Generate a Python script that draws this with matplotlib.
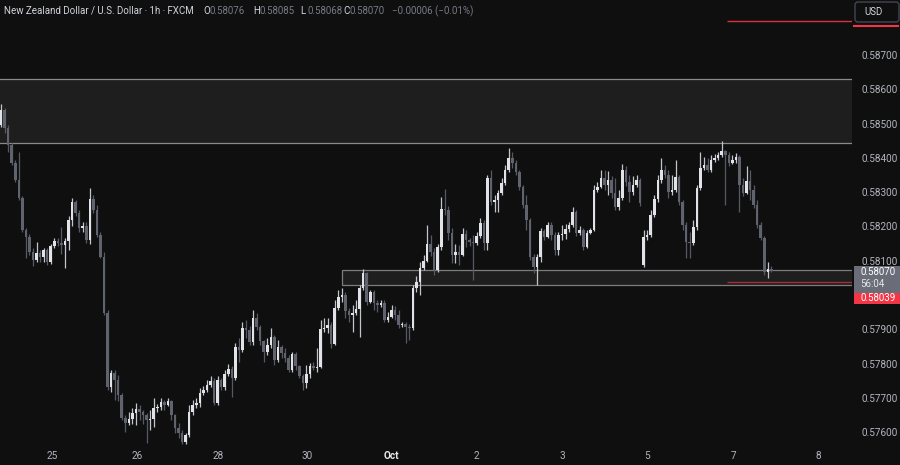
import numpy as np
import matplotlib.pyplot as plt
import matplotlib.transforms as mtransforms
from matplotlib.patches import Rectangle, FancyBboxPatch
from matplotlib.lines import Line2D

plt.rcParams['font.family'] = ['Roboto', 'DejaVu Sans']

# =============================================================================
# Data: NZD/USD 1h candles, prices in points (1e-5)
# =============================================================================
opens = [58496, 58540, 58487, 58437, 58385, 58336, 58283, 58190, 58169, 58126,
         58102, 58123, 58111, 58132, 58096, 58143, 58158, 58152, 58146, 58158,
         58219, 58271, 58239, 58196, 58202, 58161, 58280, 58248, 58175, 58111,
         57948, 57732, 57773, 57753, 57709, 57642, 57627, 57639, 57656, 57668,
         57659, 57650, 57636, 57639, 57671, 57674, 57688, 57680, 57691, 57650,
         57612, 57598, 57572, 57592, 57659, 57680, 57686, 57715, 57723, 57738,
         57750, 57686, 57753, 57732, 57770, 57785, 57758, 57849, 57840, 57904,
         57898, 57863, 57933, 57907, 57866, 57834, 57854, 57878, 57811, 57849,
         57831, 57817, 57782, 57828, 57793, 57764, 57744, 57770, 57793, 57787,
         57790, 57901, 57904, 57913, 57857, 57962, 57994, 58000, 57953, 57942,
         57948, 57960, 58021, 58064, 57980, 58009, 57977, 57971, 57977, 57928,
         57936, 57956, 57942, 57913, 57916, 57907, 57904, 58021, 58038, 58079,
         58099, 58149, 58126, 58073, 58140, 58251, 58248, 58181, 58117, 58126,
         58117, 58178, 58161, 58155, 58152, 58172, 58210, 58152, 58341, 58271,
         58277, 58297, 58327, 58365, 58400, 58385, 58359, 58315, 58263, 58219,
         58111, 58082, 58111, 58187, 58169, 58204, 58175, 58132, 58175, 58178,
         58192, 58204, 58242, 58181, 58190, 58140, 58181, 58190, 58306, 58315,
         58341, 58321, 58336, 58297, 58257, 58283, 58365, 58330, 58301, 58321,
         58336, 58088, 58169, 58175, 58233, 58280, 58336, 58365, 58350, 58301,
         58306, 58344, 58271, 58204, 58155, 58152, 58198, 58312, 58370, 58379,
         58365, 58394, 58400, 58408, 58420, 58408, 58385, 58394, 58402, 58321,
         58297, 58332, 58306, 58263, 58204, 58166, 58067, 58076]
highs = [58557, 58546, 58496, 58443, 58394, 58417, 58289, 58196, 58178, 58137,
         58155, 58132, 58137, 58137, 58149, 58166, 58166, 58198, 58166, 58231,
         58283, 58277, 58248, 58213, 58213, 58312, 58292, 58262, 58184, 58126,
         57957, 57782, 57782, 57767, 57715, 57650, 57659, 57671, 57685, 57680,
         57665, 57656, 57665, 57700, 57683, 57700, 57694, 57700, 57694, 57653,
         57627, 57607, 57598, 57680, 57694, 57700, 57729, 57735, 57753, 57764,
         57759, 57764, 57759, 57782, 57799, 57793, 57860, 57875, 57921, 57927,
         57910, 57956, 57948, 57913, 57869, 57875, 57904, 57884, 57869, 57854,
         57846, 57825, 57834, 57834, 57796, 57770, 57796, 57802, 57805, 57846,
         57927, 57933, 57933, 57921, 57986, 58015, 58021, 58009, 57962, 57971,
         57986, 58030, 58076, 58067, 58015, 58015, 57986, 57986, 57986, 57951,
         57971, 57968, 57957, 57921, 57921, 57916, 58030, 58056, 58096, 58117,
         58204, 58175, 58137, 58149, 58286, 58309, 58260, 58196, 58149, 58146,
         58196, 58190, 58166, 58175, 58184, 58225, 58219, 58350, 58365, 58292,
         58306, 58341, 58379, 58429, 58417, 58394, 58365, 58321, 58292, 58225,
         58120, 58120, 58196, 58192, 58213, 58213, 58184, 58184, 58204, 58207,
         58213, 58257, 58248, 58201, 58196, 58190, 58196, 58321, 58330, 58365,
         58365, 58362, 58347, 58341, 58306, 58382, 58376, 58350, 58347, 58350,
         58341, 58190, 58190, 58248, 58292, 58350, 58400, 58379, 58365, 58350,
         58394, 58350, 58277, 58213, 58184, 58219, 58321, 58417, 58402, 58400,
         58408, 58411, 58417, 58449, 58423, 58417, 58408, 58414, 58408, 58341,
         58376, 58365, 58321, 58277, 58213, 58172, 58096, 58085]
lows = [58490, 58472, 58417, 58379, 58330, 58277, 58184, 58108, 58117, 58085,
        58096, 58096, 58096, 58088, 58091, 58137, 58143, 58120, 58079, 58132,
        58202, 58231, 58184, 58184, 58152, 58149, 58239, 58169, 58108, 57942,
        57723, 57717, 57694, 57691, 57636, 57601, 57621, 57624, 57621, 57636,
        57624, 57569, 57607, 57615, 57659, 57665, 57665, 57677, 57636, 57598,
        57583, 57566, 57566, 57586, 57650, 57671, 57674, 57709, 57717, 57732,
        57680, 57680, 57723, 57723, 57764, 57703, 57753, 57805, 57834, 57875,
        57854, 57854, 57898, 57854, 57805, 57825, 57846, 57796, 57805, 57817,
        57805, 57776, 57776, 57782, 57758, 57723, 57729, 57758, 57782, 57776,
        57787, 57892, 57889, 57846, 57854, 57956, 57980, 57933, 57921, 57892,
        57942, 57878, 58015, 57971, 57977, 57956, 57951, 57965, 57921, 57921,
        57933, 57928, 57904, 57907, 57860, 57869, 57898, 58009, 58000, 58073,
        58096, 58114, 58059, 58067, 58132, 58233, 58161, 58093, 58093, 58088,
        58114, 58140, 58143, 58044, 58146, 58166, 58132, 58132, 58263, 58242,
        58242, 58292, 58321, 58359, 58371, 58350, 58306, 58254, 58190, 58102,
        58064, 58029, 58096, 58161, 58166, 58161, 58117, 58117, 58161, 58163,
        58184, 58198, 58172, 58175, 58132, 58137, 58178, 58187, 58300, 58312,
        58306, 58292, 58283, 58248, 58248, 58277, 58318, 58271, 58292, 58315,
        58260, 58082, 58161, 58169, 58227, 58271, 58327, 58341, 58283, 58292,
        58300, 58263, 58190, 58108, 58108, 58146, 58190, 58306, 58365, 58359,
        58359, 58388, 58394, 58402, 58263, 58376, 58382, 58385, 58242, 58289,
        58295, 58277, 58254, 58196, 58161, 58059, 58050, 58068]
closes = [58540, 58487, 58437, 58385, 58336, 58283, 58190, 58169, 58126, 58102,
          58123, 58111, 58132, 58096, 58143, 58158, 58152, 58146, 58158, 58219,
          58271, 58239, 58196, 58202, 58161, 58280, 58248, 58175, 58111, 57948,
          57732, 57773, 57753, 57709, 57642, 57627, 57639, 57656, 57668, 57659,
          57650, 57636, 57639, 57671, 57674, 57688, 57680, 57691, 57650, 57612,
          57598, 57572, 57592, 57659, 57680, 57686, 57715, 57723, 57738, 57750,
          57686, 57753, 57732, 57770, 57785, 57758, 57849, 57840, 57904, 57898,
          57863, 57933, 57907, 57866, 57834, 57854, 57878, 57811, 57849, 57831,
          57817, 57782, 57828, 57793, 57764, 57744, 57770, 57793, 57787, 57790,
          57901, 57904, 57913, 57857, 57962, 57994, 58000, 57953, 57942, 57948,
          57960, 58021, 58064, 57980, 58009, 57977, 57971, 57977, 57928, 57936,
          57956, 57942, 57913, 57916, 57907, 57904, 58021, 58038, 58079, 58099,
          58149, 58126, 58073, 58140, 58251, 58248, 58181, 58117, 58126, 58117,
          58178, 58161, 58155, 58152, 58172, 58210, 58152, 58341, 58271, 58277,
          58297, 58327, 58365, 58400, 58385, 58359, 58315, 58263, 58219, 58111,
          58082, 58111, 58187, 58169, 58204, 58175, 58132, 58175, 58178, 58192,
          58204, 58242, 58181, 58190, 58140, 58181, 58190, 58306, 58315, 58341,
          58321, 58336, 58297, 58257, 58283, 58365, 58330, 58301, 58321, 58336,
          58268, 58169, 58175, 58233, 58280, 58336, 58365, 58350, 58301, 58306,
          58344, 58271, 58204, 58155, 58152, 58198, 58312, 58370, 58379, 58365,
          58394, 58400, 58408, 58420, 58408, 58385, 58394, 58402, 58321, 58297,
          58332, 58306, 58263, 58204, 58166, 58067, 58076, 58070]

date_pos = [14.4, 38.3, 61.1, 86.2, 110.1, 134.0, 158.0, 182.0, 206.2, 230.1]
date_labels = ['25', '26', '28', '30', 'Oct', '2', '3', '5', '7', '8']
price_ticks = [0.576, 0.577, 0.578, 0.579, 0.581, 0.582, 0.583, 0.584, 0.585, 0.586, 0.587]

upper_zone = (0.58443, 0.58630)
lower_zone = (0.58030, 0.58073)
lower_zone_start = 96.1
alert_lines = (0.58800, 0.58039)
alert_start = 204.5
last_price = 0.58070

# =============================================================================
# Figure
# =============================================================================
BG = '#0f0f0f'
TXT = '#b2b5be'
UP_BODY, UP_WICK = '#e2e3e8', '#c2c4cc'
DN_BODY, DN_WICK = '#60636e', '#565964'

o = np.array(opens) / 1e5
h = np.array(highs) / 1e5
l = np.array(lows) / 1e5
c = np.array(closes) / 1e5
x = np.arange(len(c))
up = c >= o

fig = plt.figure(figsize=(9, 4.65), dpi=100, facecolor=BG)
ax = fig.add_axes([0, 20 / 465, 852 / 900, 445 / 465], facecolor=BG)
ax.set_xlim(-0.3, 239.7)
ax.set_ylim(0.57563, 0.58860)
for s in ax.spines.values():
    s.set_visible(False)

# zones
ax.add_patch(Rectangle((-5, upper_zone[0]), 260, upper_zone[1] - upper_zone[0],
                       facecolor='#1e1e1e', edgecolor='#8a8a8a', lw=0.9, zorder=1))
ax.add_patch(Rectangle((lower_zone_start, lower_zone[0]), 160, lower_zone[1] - lower_zone[0],
                       facecolor='#1e1e1e', edgecolor='#7d7d7d', lw=0.9, zorder=1))

# alert lines
ax.hlines(alert_lines[0], alert_start, 260, color='#d8323f', lw=1.0, zorder=2)
ax.hlines(alert_lines[1], alert_start, 260, color='#a82c37', lw=1.0, zorder=2)

# candles
ax.vlines(x, l, h, colors=np.where(up, UP_WICK, DN_WICK), lw=0.9, zorder=3)
body_h = np.maximum(np.abs(c - o), 0.00002)
ax.bar(x, body_h, bottom=np.minimum(o, c), width=0.72,
       color=np.where(up, UP_BODY, DN_BODY), linewidth=0, zorder=4)

# axes ticks
ax.yaxis.tick_right()
ax.set_yticks(price_ticks)
ax.set_yticklabels(['%.5f' % p for p in price_ticks])
ax.tick_params(axis='y', length=0, pad=6.5, labelsize=7.2, labelcolor=TXT)
ax.set_xticks(date_pos)
ax.set_xticklabels(date_labels)
ax.tick_params(axis='x', length=0, pad=4, labelsize=7.2, labelcolor=TXT)
for lab in ax.get_xticklabels():
    if lab.get_text() == 'Oct':
        lab.set_color('#e8e8ec')
        lab.set_fontweight('bold')

# price labels on the scale
trans = mtransforms.blended_transform_factory(ax.transAxes, ax.transData)
ax.add_patch(Rectangle((1.0023, 0.58006), 0.054, 0.00079, transform=trans,
                       facecolor='#6a6d78', edgecolor='none', clip_on=False, zorder=5))
ax.add_patch(Rectangle((1.0023, 0.57974), 0.054, 0.00032, transform=trans,
                       facecolor='#f23645', edgecolor='none', clip_on=False, zorder=5))
ax.text(1.0094, 0.58067, '%.5f' % last_price, transform=trans, color='white',
        fontsize=7, va='center', ha='left', zorder=6)
ax.text(1.0094, 0.58032, '56:04', transform=trans, color='#e6e6e6',
        fontsize=7, va='center', ha='left', zorder=6)
ax.text(1.0094, 0.57990, '%.5f' % alert_lines[1], transform=trans, color='white',
        fontsize=7, va='center', ha='left', zorder=6)

# USD box
px = mtransforms.IdentityTransform()
fig.add_artist(FancyBboxPatch((855, 465 - 22), 44, 20, boxstyle='round,pad=0,rounding_size=3',
                              transform=px, facecolor=BG, edgecolor='#434651', lw=1))
fig.text(864 / 900, 1 - 12 / 465, 'USD', color='#d1d4dc', fontsize=7, va='center', ha='left')
fig.add_artist(Line2D([854 / 900, 898 / 900], [1 - 26 / 465] * 2, color='#f23645', lw=1.5,
                      transform=fig.transFigure))

# header
hy = 1 - 11 / 465
fig.text(4 / 900, hy, 'New Zealand Dollar / U.S. Dollar · 1h · FXCM', color='#d1d4dc',
         fontsize=7, va='center')
ohlc = [('O', '0.58076', 203), ('H', '0.58085', 253), ('L', '0.58068', 300), ('C', '0.58070', 343)]
for key, val, xp in ohlc:
    fig.text(xp / 900, hy, key, color='#d1d4dc', fontsize=7, va='center')
    fig.text((xp + 7) / 900, hy, val, color='#787b86', fontsize=7, va='center')
fig.text(392 / 900, hy, '\u22120.00006 (\u22120.01%)', color='#787b86', fontsize=7, va='center')

fig.savefig('out.png', dpi=100, facecolor=BG)
